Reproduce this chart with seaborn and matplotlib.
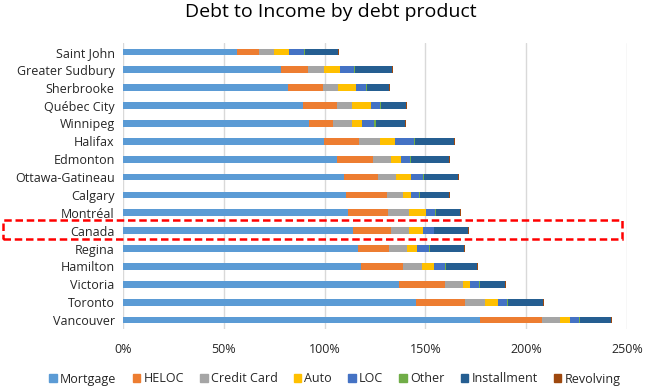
import matplotlib
matplotlib.use("Agg")
import matplotlib.pyplot as plt
import matplotlib.patches as mpatches
import seaborn as sns
import pandas as pd
import numpy as np

cities = ["Saint John", "Greater Sudbury", "Sherbrooke", "Québec City", "Winnipeg",
          "Halifax", "Edmonton", "Ottawa-Gatineau", "Calgary", "Montréal", "Canada",
          "Regina", "Hamilton", "Victoria", "Toronto", "Vancouver"]

mortgage    = [56.3, 78.6, 82.0, 89.5, 92.5, 99.9, 106.3, 109.8, 110.7, 111.7, 114.2, 116.7, 118.2, 137.0, 145.4, 177.1]
heloc       = [11.4, 13.3, 17.4, 16.8, 11.9, 17.3, 17.8, 16.8, 20.3, 19.8, 18.8, 15.3, 20.7, 22.8, 24.3, 30.7]
credit_card = [7.4, 8.0, 7.4, 7.4, 9.3, 10.4, 8.9, 8.9, 7.9, 10.4, 8.9, 8.9, 9.5, 8.9, 9.9, 8.9]
auto        = [7.4, 7.9, 8.9, 9.4, 5.0, 7.4, 4.9, 7.4, 4.0, 8.4, 7.0, 5.0, 5.9, 3.5, 6.5, 5.0]
loc_        = [7.4, 6.9, 4.9, 4.5, 5.9, 9.4, 4.5, 6.0, 4.0, 4.5, 5.4, 5.9, 5.5, 4.4, 4.4, 4.4]
other       = [0.2, 0.2, 0.2, 0.2, 0.7, 0.5, 0.5, 0.2, 0.2, 0.5, 0.2, 0.5, 0.5, 0.5, 0.5, 0.5]
installment = [16.7, 18.6, 11.2, 12.6, 14.8, 19.3, 18.8, 17.1, 14.6, 11.9, 16.6, 16.8, 15.3, 12.4, 17.3, 15.4]
revolving   = [0.5, 0.5, 0.5, 0.5, 0.3, 0.5, 0.5, 0.5, 0.5, 0.6, 0.5, 0.5, 0.5, 0.5, 0.5, 0.5]

products = ["Mortgage", "HELOC", "Credit Card", "Auto", "LOC", "Other", "Installment", "Revolving"]
colors = ["#5B9BD5", "#ED7D31", "#A5A5A5", "#FFC000", "#4472C4", "#70AD47", "#255E91", "#9E480E"]
xticks = [0, 50, 100, 150, 200, 250]
xtick_labels = ["0%", "50%", "100%", "150%", "200%", "250%"]

series = [mortgage, heloc, credit_card, auto, loc_, other, installment, revolving]
df = pd.DataFrame({"City": cities})
for name, vals in zip(products, series):
    df[name] = vals
cum = df[products].cumsum(axis=1)

sns.set_style("white")
plt.rcParams["font.family"] = ["Open Sans", "DejaVu Sans"]

fig = plt.figure(figsize=(6.5, 3.9), dpi=100)
ax = fig.add_axes([123/650, 1 - 329/390, (627 - 123)/650, (329 - 43)/390])

for name, color in reversed(list(zip(products, colors))):
    sns.barplot(x=cum[name], y=df["City"], order=cities, orient="h", color=color,
                width=0.38, ax=ax, saturation=1, edgecolor="none", linewidth=0)

ax.set_xlim(0, 250)
ax.set_ylim(15.5, -0.5)
ax.set_xticks(xticks)
ax.set_xticklabels(xtick_labels)
ax.set_xlabel("")
ax.set_ylabel("")
ax.xaxis.grid(True, color="#D9D9D9", linewidth=1)
ax.set_axisbelow(True)
for s in ax.spines.values():
    s.set_visible(False)
ax.tick_params(axis="both", length=0, labelsize=9, colors="#262626")
ax.tick_params(axis="x", pad=10)
ax.tick_params(axis="y", pad=6)

fig.text(331/650, 1 - 12/390, "Debt to Income by debt product", ha="center", va="center",
         fontsize=14, color="black")

handles = [mpatches.Patch(color=c, label=p) for p, c in zip(products, colors)]
fig.legend(handles=handles, loc="center", bbox_to_anchor=(335/650, 1 - 379/390), ncol=8,
           frameon=False, fontsize=9, handlelength=0.6, handleheight=0.6,
           handletextpad=0.25, columnspacing=1.3, labelcolor="#262626")

rect = mpatches.Rectangle((3/650, 1 - 238.5/390), (622 - 3)/650, (238.5 - 219.5)/390,
                          transform=fig.transFigure, fill=False, edgecolor="#FF0000",
                          linestyle=(0, (3, 1.5)), linewidth=1.8)
fig.patches.append(rect)

fig.savefig("out.png", dpi=100)
